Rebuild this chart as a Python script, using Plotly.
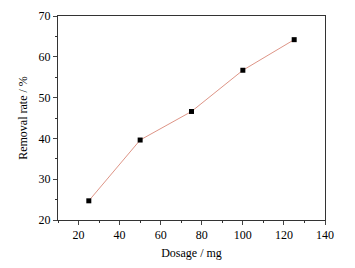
import plotly.graph_objects as go

dosage = [25, 50, 75, 100, 125]
removal = [24.7, 39.6, 46.6, 56.7, 64.2]
x_ticks = [20, 40, 60, 80, 100, 120, 140]
y_ticks = [20, 30, 40, 50, 60, 70]

fig = go.Figure()
fig.add_trace(go.Scatter(
    x=dosage, y=removal, mode="lines+markers",
    line=dict(color="#d98878", width=0.9),
    marker=dict(symbol="square", size=5, color="black"),
))
font = dict(family="Liberation Serif, Times New Roman, serif", size=12, color="black")
fig.update_layout(
    width=355, height=268,
    margin=dict(l=50, r=38, t=8, b=56),
    paper_bgcolor="white", plot_bgcolor="white",
    showlegend=False, font=font,
)
fig.update_xaxes(
    range=[10, 140], tickvals=x_ticks, ticks="outside", ticklen=4, tickwidth=1,
    showline=True, linecolor="#333", linewidth=1, mirror=True, showgrid=False, zeroline=False,
    minor=dict(ticks="outside", ticklen=2, dtick=10, tickcolor="#333"),
    title=dict(text="Dosage / mg", font=font, standoff=7), automargin=False,
)
fig.update_yaxes(
    range=[20, 70], tickvals=y_ticks, ticks="outside", ticklen=4, tickwidth=1,
    showline=True, linecolor="#333", linewidth=1, mirror=True, showgrid=False, zeroline=False,
    minor=dict(ticks="outside", ticklen=2, dtick=5, tickcolor="#333"),
    title=dict(text="Removal rate / %", font=font, standoff=8), automargin=False,
)
fig.write_html("out.html")
